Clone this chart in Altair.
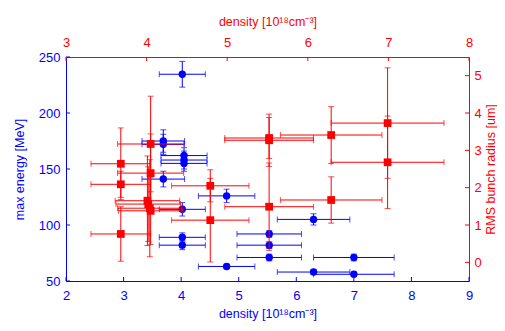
import altair as alt
import pandas as pd

# ---- blue series: bottom x (density), left y (max energy) ----
blue_density = [4.02, 3.69, 3.69, 4.05, 4.05, 4.05, 3.69, 4.79, 4.02, 4.02, 4.02, 4.79,
                5.53, 5.53, 5.53, 6.30, 7.00, 6.30, 7.00]
blue_energy = [234.6, 175, 172, 162, 158, 155, 141, 126, 114, 89, 82, 63,
               92, 82, 71, 105, 71, 58, 56]
blue_density_err = [0.40, 0.37, 0.37, 0.40, 0.40, 0.40, 0.37, 0.49, 0.40, 0.40, 0.40, 0.49,
                    0.56, 0.56, 0.56, 0.63, 0.70, 0.63, 0.70]
blue_energy_err = [11.5, 10, 9, 7, 8, 7, 7, 6, 6, 4, 4, 2,
                   3, 3, 3, 5, 3, 2, 2]

# ---- red series: top x (density), right y (RMS bunch radius) ----
red_density = [4.05, 3.68, 4.05, 3.68, 4.79, 4.01, 4.02, 4.04, 4.05, 4.79, 3.68,
               5.52, 5.52, 6.29, 6.99, 6.99, 6.29, 5.52]
red_radius = [3.17, 2.64, 2.39, 2.09, 2.05, 1.65, 1.56, 1.45, 1.38, 1.13, 0.76,
              3.33, 3.27, 3.41, 3.73, 2.68, 1.67, 1.49]
red_density_err = [0.41, 0.37, 0.41, 0.37, 0.48, 0.40, 0.40, 0.40, 0.40, 0.48, 0.37,
                   0.55, 0.55, 0.63, 0.70, 0.70, 0.63, 0.55]
red_radius_err = [1.28, 0.96, 1.05, 0.35, 0.43, 1.20, 1.00, 1.30, 0.90, 1.12, 0.73,
                  0.55, 0.70, 0.76, 1.48, 1.24, 0.62, 1.17]

bottom_ticks = [2, 3, 4, 5, 6, 7, 8, 9]
left_ticks = [50, 100, 150, 200, 250]
top_ticks = [3, 4, 5, 6, 7, 8]
right_ticks = [0, 1, 2, 3, 4, 5]

BLUE = "#0000ff"
RED = "#ff0000"
FONT = "Liberation Sans"
W, H = 403, 224
TITLE_X = "density [10¹⁸cm⁻³]"

blue_df = pd.DataFrame({"x": blue_density, "y": blue_energy,
                        "xe": blue_density_err, "ye": blue_energy_err})
red_df = pd.DataFrame({"x": red_density, "y": red_radius,
                       "xe": red_density_err, "ye": red_radius_err})


def make_axis(orient, values, title, color, label_pad, title_pad, **kw):
    return alt.Axis(orient=orient, values=values, title=title, grid=False,
                    domainColor=color, tickSize=0, labelColor=color, titleColor=color,
                    labelFont=FONT, titleFont=FONT, labelFontSize=13, titleFontSize=12.5,
                    titleFontWeight="normal", labelPadding=label_pad, titlePadding=title_pad,
                    labelFlush=False, labelOverlap=False, **kw)


def series(df, color, xdom, ydom, xaxis, yaxis, shape, size, xt, yt, xtick_y, ytick_x):
    xs = alt.Scale(domain=xdom, nice=False, zero=False)
    ys = alt.Scale(domain=ydom, nice=False, zero=False)

    def X(f):
        return alt.X(f, type="quantitative", scale=xs, axis=xaxis)

    def Y(f):
        return alt.Y(f, type="quantitative", scale=ys, axis=yaxis)

    base = alt.Chart(df).transform_calculate(
        xlo="datum.x - datum.xe", xhi="datum.x + datum.xe",
        ylo="datum.y - datum.ye", yhi="datum.y + datum.ye")
    hbar = base.mark_rule(color=color, strokeWidth=1).encode(x=X("xlo"), x2="xhi", y=Y("y"))
    vbar = base.mark_rule(color=color, strokeWidth=1).encode(x=X("x"), y=Y("ylo"), y2="yhi")
    hcap = base.transform_fold(["xlo", "xhi"], as_=["k", "v"]).mark_tick(
        orient="vertical", color=color, size=6, thickness=1).encode(x=X("v"), y=Y("y"))
    vcap = base.transform_fold(["ylo", "yhi"], as_=["k", "v"]).mark_tick(
        orient="horizontal", color=color, size=6, thickness=1).encode(x=X("x"), y=Y("v"))
    pts = base.mark_point(shape=shape, filled=True, color=color, size=size, opacity=1).encode(
        x=X("x"), y=Y("y"))
    # inward ticks
    xtk = alt.Chart(pd.DataFrame({"t": xt})).mark_rule(color=color).encode(
        x=X("t"), y=alt.value(xtick_y[0]), y2=alt.value(xtick_y[1]))
    ytk = alt.Chart(pd.DataFrame({"t": yt})).mark_rule(color=color).encode(
        y=Y("t"), x=alt.value(ytick_x[0]), x2=alt.value(ytick_x[1]))
    return alt.layer(xtk, ytk, hbar, vbar, hcap, vcap, pts)


blue_layer = series(
    blue_df, BLUE, [2, 9], [50, 250],
    make_axis("bottom", bottom_ticks, TITLE_X, BLUE, 8, 5),
    make_axis("left", left_ticks, "max energy [MeV]", BLUE, 6, 12),
    "circle", 55, bottom_ticks, left_ticks, (H, H - 4), (0, 4))

red_layer = series(
    red_df, RED, [3, 8], [-0.5, 5.5],
    make_axis("top", top_ticks, TITLE_X, RED, 8, 8),
    make_axis("right", right_ticks, "RMS bunch radius [um]", RED, 5, 3,
              titleAngle=270, titleBaseline="top"),
    "square", 60, top_ticks, right_ticks, (0, 4), (W, W - 4))

chart = alt.layer(blue_layer, red_layer).resolve_scale(
    x="independent", y="independent"
).properties(
    width=W, height=H, autosize="none",
    padding={"left": 58, "top": 49, "right": 28, "bottom": 42}
).configure_view(stroke=None).configure(background="white")

chart.save("out.html", embed_options={"renderer": "svg", "actions": False})
